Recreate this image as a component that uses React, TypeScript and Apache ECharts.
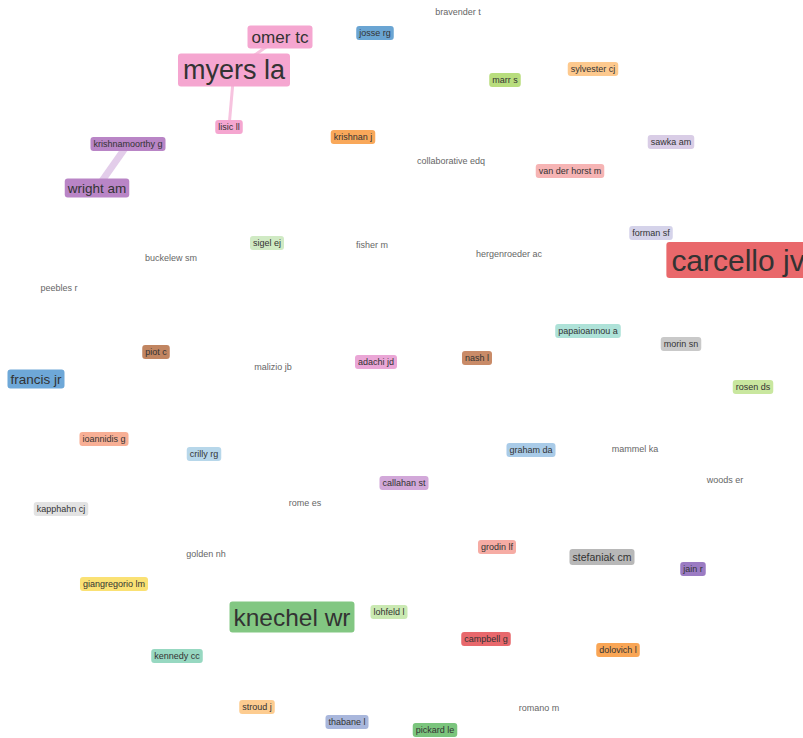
import React, { useEffect, useRef } from "react";
import * as echarts from "echarts";

// Node names (authors)
const names = [
  "bravender t", "josse rg", "omer tc", "myers la", "marr s", "sylvester cj", "lisic ll",
  "krishnan j", "krishnamoorthy g", "sawka am", "collaborative edq", "van der horst m",
  "wright am", "forman sf", "carcello jv", "sigel ej", "fisher m", "buckelew sm",
  "hergenroeder ac", "peebles r", "papaioannou a", "morin sn", "piot c", "adachi jd",
  "nash l", "malizio jb", "francis jr", "rosen ds", "ioannidis g", "crilly rg",
  "graham da", "mammel ka", "woods er", "callahan st", "kapphahn cj", "rome es",
  "grodin lf", "stefaniak cm", "golden nh", "jain r", "giangregorio lm", "knechel wr",
  "lohfeld l", "campbell g", "dolovich l", "kennedy cc", "stroud j", "romano m",
  "thabane l", "pickard le",
];
// Layout coordinates (map units)
const nodeX = [
  458, 375, 280, 234, 505, 593, 229,
  353, 128, 671, 451, 570,
  97, 651, 738, 267, 372, 171,
  509, 59, 588, 681, 156, 376,
  477, 273, 36, 753, 104, 204,
  531, 635, 725, 404, 61, 305,
  497, 602, 206, 693, 114, 292,
  389, 486, 618, 177, 257, 539,
  347, 435,
];
const nodeY = [
  12, 33, 37, 70, 80, 69, 127,
  137, 144, 142, 161, 171,
  188, 233, 260, 243, 245, 258,
  254, 288, 331, 344, 352, 362,
  358, 367, 379, 387, 439, 454,
  450, 449, 480, 483, 509, 503,
  547, 557, 554, 569, 584, 617,
  612, 639, 650, 656, 707, 708,
  722, 730,
];
// Label weight (relative importance)
const weights = [
  1, 1, 1.9, 3.0, 1, 1, 1,
  1, 1, 1, 1, 1,
  1.5, 1, 3.33, 1, 1, 1,
  1, 1, 1, 1, 1, 1,
  1, 1, 1.5, 1, 1, 1,
  1, 1, 1, 1, 1, 1,
  1, 1.17, 1, 1, 1, 2.72,
  1, 1, 1, 1, 1, 1,
  1, 1,
];
// Cluster index (0 = no cluster)
const clusters = [
  0, 1, 2, 2, 3, 4, 2,
  5, 6, 7, 0, 8,
  6, 9, 10, 11, 0, 0,
  0, 0, 12, 13, 14, 15,
  16, 0, 17, 18, 19, 20,
  21, 0, 0, 22, 23, 0,
  24, 25, 0, 26, 27, 28,
  29, 30, 31, 32, 33, 0,
  34, 35,
];
const palette = [
  "", "#6aa5d3", "#f5a6d0", "#b8dd7d", "#fdc98e", "#f9a85a", "#b985c6", "#d9cde6",
  "#f6b4b4", "#d5d3ea", "#e9686b", "#d0eac4", "#aee2d8", "#c9c9c9", "#c18561", "#eaa6d6",
  "#c98b68", "#6ea8d8", "#c9e79f", "#f8af95", "#b7d7ea", "#a9cbe8", "#d2a8d9", "#e3e3e3",
  "#f6aca4", "#b8b8b8", "#9b7bc3", "#fae174", "#82c782", "#cae9b2", "#e8686c", "#f9a656",
  "#97d8c1", "#fdcc90", "#a9b7dc", "#7bc57d",
];
// Co-authorship links: [source, target, strength]
const links: [string, string, number][] = [
  ["myers la", "omer tc", 1],
  ["myers la", "lisic ll", 1],
  ["krishnamoorthy g", "wright am", 2.3],
];
const linkColors = ["#f7c3df", "#f7c3df", "#e3cdea"];

export default function App() {
  const ref = useRef<HTMLDivElement>(null);
  useEffect(() => {
    if (!ref.current) return;
    const chart = echarts.init(ref.current, undefined, { renderer: "svg" });
    const nodes = names.map((n, i) => {
      const fs = 9 * weights[i];
      const c = clusters[i];
      const hasBg = c !== 0;
      return {
        name: n,
        value: [nodeX[i], nodeY[i]],
        symbolSize: 1,
        itemStyle: { color: "transparent" },
        label: {
          show: true,
          position: "inside",
          formatter: n,
          fontSize: fs,
          lineHeight: Math.round(fs * 1.05 + 1),
          fontFamily: "'Liberation Sans', Arial, sans-serif",
          color: hasBg ? "#333" : "#666",
          backgroundColor: hasBg ? palette[c] : "transparent",
          borderRadius: 3,
          padding: hasBg ? [2, Math.round(fs * 0.12 + 1.5)] : 0,
        },
      };
    });
    chart.setOption({
      animation: false,
      backgroundColor: "#fff",
      grid: { left: 0, right: 0, top: 0, bottom: 0 },
      xAxis: { type: "value", min: 0, max: 803, show: false },
      yAxis: { type: "value", min: 0, max: 738, inverse: true, show: false },
      series: [
        {
          type: "graph",
          coordinateSystem: "cartesian2d",
          layout: "none",
          data: nodes,
          links: links.map((l, i) => ({
            source: l[0],
            target: l[1],
            lineStyle: { width: 3 * l[2], color: linkColors[i], opacity: 1, curveness: 0 },
          })),
          emphasis: { disabled: true },
        },
      ],
    });
    return () => chart.dispose();
  }, []);
  return (
    <div
      ref={ref}
      style={{ position: "fixed", left: 0, top: 0, width: 803, height: 738 }}
    />
  );
}
